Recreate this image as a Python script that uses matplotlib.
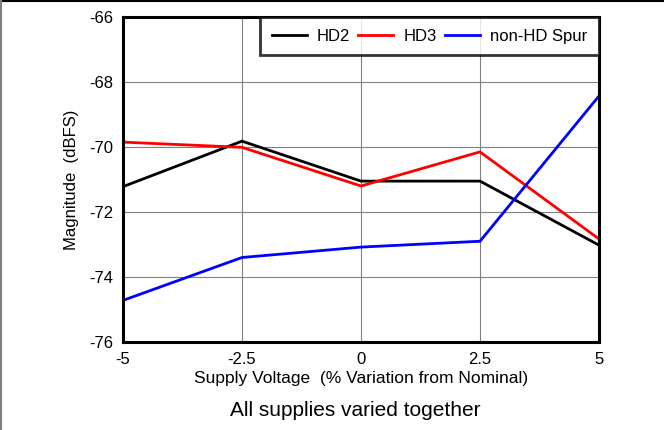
import matplotlib
matplotlib.use("Agg")
import matplotlib.pyplot as plt
from matplotlib.lines import Line2D

plt.rcParams['font.family'] = ['Liberation Sans', 'DejaVu Sans']
plt.rcParams['axes.unicode_minus'] = False

supply_pct = [-5, -2.5, 0, 2.5, 5]
hd2 = [-71.22, -69.82, -71.05, -71.05, -73.02]
hd3 = [-69.85, -70.01, -71.2, -70.15, -72.83]
spur = [-74.72, -73.4, -73.08, -72.9, -68.43]
series_names = ["HD2", "HD3", "non-HD Spur"]
series_colors = ["#000000", "#ff0000", "#0000ff"]
xticks = [-5, -2.5, 0, 2.5, 5]
xtick_labels = ["-5", "-2.5", "0", "2.5", "5"]
yticks = [-76, -74, -72, -70, -68, -66]

fig = plt.figure(figsize=(6.64, 4.30), dpi=100)
W, H = 664, 430
ax = fig.add_axes([123 / W, 1 - 342 / H, (599 - 123) / W, (342 - 17) / H])

for vals, name, c in zip([hd2, hd3, spur], series_names, series_colors):
    ax.plot(supply_pct, vals, color=c, lw=2, label=name, solid_joinstyle='miter')

ax.set_xlim(-5, 5)
ax.set_ylim(-76, -66)
ax.set_xticks(xticks)
ax.set_xticklabels(xtick_labels)
ax.set_yticks(yticks)
ax.grid(True, color='#808080', lw=0.8)
ax.set_axisbelow(True)
ax.tick_params(length=0, labelsize=12, pad=7)
for s in ax.spines.values():
    s.set_linewidth(2.2)
    s.set_color('black')

ax.set_xlabel("Supply Voltage  (% Variation from Nominal)", fontsize=12.5, labelpad=3)
ax.set_ylabel("Magnitude  (dBFS)", fontsize=12, labelpad=7)

leg = ax.legend(loc='upper right', ncol=3, fontsize=12, frameon=True, fancybox=False,
                handlelength=2.1, handletextpad=0.6, columnspacing=0.5,
                borderaxespad=0, borderpad=0.7)
leg.get_frame().set_edgecolor('black')
leg.get_frame().set_linewidth(2)

fig.text(355 / W, 1 - 411 / H, "All supplies varied together",
         ha='center', va='center', fontsize=15)

# figure border (top and left)
fig.add_artist(Line2D([0, 1], [1 - 0.5 / H, 1 - 0.5 / H], transform=fig.transFigure, color='black', lw=1.5))
fig.add_artist(Line2D([0.5 / W, 0.5 / W], [0, 1], transform=fig.transFigure, color='#808080', lw=1.5))

fig.savefig("out.png", dpi=100)
